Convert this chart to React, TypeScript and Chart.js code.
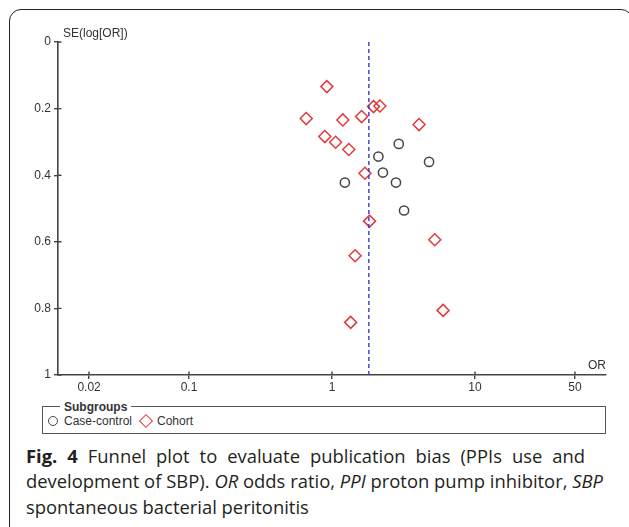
import React, { useEffect, useRef } from "react";
import { Chart, registerables } from "chart.js";

Chart.register(...registerables);

// ---- data ----
const CASE_CONTROL_OR = [2.93, 2.11, 4.77, 2.27, 2.8, 1.23, 3.19];
const CASE_CONTROL_SE = [0.306, 0.344, 0.36, 0.392, 0.422, 0.422, 0.506];
const COHORT_OR = [0.92, 0.66, 1.19, 1.61, 1.95, 2.16, 4.06, 0.89, 1.06, 1.31, 1.7, 1.83, 5.23, 1.45, 5.98, 1.35];
const COHORT_SE = [0.134, 0.23, 0.234, 0.224, 0.194, 0.192, 0.248, 0.284, 0.301, 0.323, 0.394, 0.538, 0.594, 0.642, 0.806, 0.842];
const POOLED_OR = 1.81;
const X_TICKS = [0.02, 0.1, 1, 10, 50];
const X_TICK_LABELS = ["0.02", "0.1", "1", "10", "50"];
const Y_TICKS = [0, 0.2, 0.4, 0.6, 0.8, 1];
const Y_TICK_LABELS = ["0", "0.2", "0.4", "0.6", "0.8", "1"];
const X_MIN = 0.01213;
const X_MAX = 82.4;
const SERIES_NAMES = ["Case-control", "Cohort"];

const AXIS_COLOR = "#444";
const TEXT_COLOR = "#333";
const CIRCLE_COLOR = "#454545";
const DIAMOND_COLOR = "#e23a3a";
const FONT = "'Liberation Sans', Arial, sans-serif";

const extrasPlugin = {
  id: "extras",
  afterDraw(chart: any) {
    const { ctx, chartArea, scales } = chart;
    const xs = scales.x;
    const ys = scales.y;
    ctx.save();
    ctx.strokeStyle = AXIS_COLOR;
    ctx.lineWidth = 1.4;
    ctx.beginPath();
    X_TICKS.forEach((v) => {
      const px = xs.getPixelForValue(v);
      ctx.moveTo(px, chartArea.bottom);
      ctx.lineTo(px, chartArea.bottom - 3.5);
    });
    Y_TICKS.forEach((v) => {
      const py = ys.getPixelForValue(v);
      ctx.moveTo(chartArea.left, py);
      ctx.lineTo(chartArea.left + 3.5, py);
    });
    ctx.stroke();
    ctx.fillStyle = TEXT_COLOR;
    ctx.font = `12px ${FONT}`;
    ctx.textBaseline = "middle";
    ctx.textAlign = "left";
    ctx.fillText("SE(log[OR])", chartArea.left + 5, chartArea.top - 8);
    ctx.textAlign = "right";
    ctx.fillText("OR", chartArea.right, chartArea.bottom - 9);
    ctx.restore();
  },
};

export default function App() {
  const ref = useRef<HTMLCanvasElement | null>(null);

  useEffect(() => {
    if (!ref.current) return;
    const chart = new Chart(ref.current, {
      type: "scatter",
      data: {
        datasets: [
          {
            label: "Pooled",
            type: "line",
            data: [
              { x: POOLED_OR, y: 0 },
              { x: POOLED_OR, y: 1 },
            ],
            borderColor: "#3535d8",
            borderWidth: 1.4,
            borderDash: [4, 3],
            pointRadius: 0,
            fill: false,
          } as any,
          {
            label: SERIES_NAMES[0],
            data: CASE_CONTROL_OR.map((x, i) => ({ x, y: CASE_CONTROL_SE[i] })),
            pointStyle: "circle",
            pointRadius: 4.6,
            borderColor: CIRCLE_COLOR,
            backgroundColor: "rgba(0,0,0,0)",
            borderWidth: 1.5,
          },
          {
            label: SERIES_NAMES[1],
            data: COHORT_OR.map((x, i) => ({ x, y: COHORT_SE[i] })),
            pointStyle: "rectRot",
            pointRadius: 6,
            borderColor: DIAMOND_COLOR,
            backgroundColor: "rgba(0,0,0,0)",
            borderWidth: 1.5,
          },
        ],
      },
      options: {
        responsive: false,
        animation: false,
        layout: { padding: { left: 0, top: 42, right: 23, bottom: 0 } },
        plugins: {
          legend: { display: false },
          tooltip: { enabled: false },
        },
        scales: {
          x: {
            type: "logarithmic",
            min: X_MIN,
            max: X_MAX,
            afterBuildTicks: (scale: any) => {
              scale.ticks = X_TICKS.map((v) => ({ value: v }));
            },
            afterFit: (scale: any) => {
              scale.height = 25;
            },
            ticks: {
              autoSkip: false,
              maxRotation: 0,
              padding: 1,
              color: TEXT_COLOR,
              font: { family: FONT, size: 12 },
              callback: (v: any) => {
                const i = X_TICKS.indexOf(Number(v));
                return i >= 0 ? X_TICK_LABELS[i] : "";
              },
            },
            grid: {
              drawOnChartArea: false,
              drawTicks: true,
              tickLength: 4,
              color: AXIS_COLOR,
              lineWidth: 1.4,
            },
            border: { display: true, color: AXIS_COLOR, width: 1.6 },
          },
          y: {
            type: "linear",
            reverse: true,
            min: 0,
            max: 1,
            afterBuildTicks: (scale: any) => {
              scale.ticks = Y_TICKS.map((v) => ({ value: v }));
            },
            afterFit: (scale: any) => {
              scale.width = 58;
            },
            ticks: {
              autoSkip: false,
              padding: 3,
              color: TEXT_COLOR,
              font: { family: FONT, size: 12 },
              callback: (v: any) => {
                const i = Y_TICKS.findIndex((t) => Math.abs(t - Number(v)) < 1e-6);
                return i >= 0 ? Y_TICK_LABELS[i] : "";
              },
            },
            grid: {
              drawOnChartArea: false,
              drawTicks: true,
              tickLength: 4,
              color: AXIS_COLOR,
              lineWidth: 1.4,
            },
            border: { display: true, color: AXIS_COLOR, width: 1.6 },
          },
        },
      },
      plugins: [extrasPlugin],
    });
    return () => chart.destroy();
  }, []);

  const legendText: React.CSSProperties = {
    position: "absolute",
    font: `12px ${FONT}`,
    color: TEXT_COLOR,
    lineHeight: "14px",
    whiteSpace: "nowrap",
  };

  return (
    <div
      style={{
        position: "absolute",
        left: 0,
        top: 0,
        width: 629,
        height: 527,
        overflow: "hidden",
        background: "#fff",
      }}
    >
      <div
        style={{
          position: "absolute",
          left: 9,
          top: 9,
          width: 624,
          height: 530,
          border: "1.5px solid #222",
          borderRadius: 12,
          boxSizing: "border-box",
        }}
      />
      <canvas
        ref={ref}
        width={629}
        height={400}
        style={{ position: "absolute", left: 0, top: 0, width: 629, height: 400 }}
      />
      {/* legend box */}
      <div
        style={{
          position: "absolute",
          left: 42,
          top: 406,
          width: 564,
          height: 27.5,
          border: "1.4px solid #555",
          boxSizing: "border-box",
        }}
      />
      <div
        style={{
          ...legendText,
          left: 60,
          top: 399.5,
          padding: "0 4px",
          background: "#fff",
          fontWeight: "bold",
        }}
      >
        Subgroups
      </div>
      <div
        style={{
          position: "absolute",
          left: 47.5,
          top: 415.5,
          width: 10.5,
          height: 10.5,
          borderRadius: "50%",
          border: `1.5px solid ${CIRCLE_COLOR}`,
          boxSizing: "border-box",
        }}
      />
      <div style={{ ...legendText, left: 64, top: 414 }}>{SERIES_NAMES[0]}</div>
      <div
        style={{
          position: "absolute",
          left: 140.5,
          top: 415.5,
          width: 10,
          height: 10,
          border: `1.5px solid ${DIAMOND_COLOR}`,
          boxSizing: "border-box",
          transform: "rotate(45deg)",
        }}
      />
      <div style={{ ...legendText, left: 157, top: 414 }}>{SERIES_NAMES[1]}</div>
      {/* caption */}
      <div
        style={{
          position: "absolute",
          left: 26,
          top: 442.5,
          fontFamily: "'Open Sans', 'Noto Sans', sans-serif",
          fontSize: 18.4,
          lineHeight: "25.5px",
          color: "#231f20",
          whiteSpace: "nowrap",
        }}
      >
        <div style={{ width: 559, textAlign: "justify", textAlignLast: "justify" }}>
          <b>Fig. 4</b> Funnel plot to evaluate publication bias (PPIs use and
        </div>
        <div style={{ width: 577, textAlign: "justify", textAlignLast: "justify" }}>
          development of SBP). <i>OR</i> odds ratio, <i>PPI</i> proton pump inhibitor, <i>SBP</i>
        </div>
        <div>spontaneous bacterial peritonitis</div>
      </div>
    </div>
  );
}
